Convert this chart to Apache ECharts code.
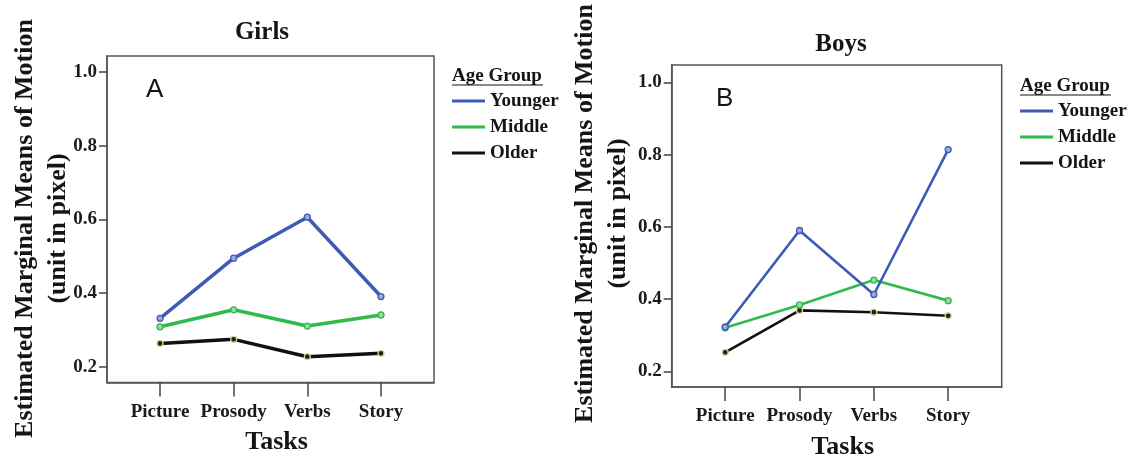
<!DOCTYPE html>
<html>
<head>
<meta charset="utf-8">
<script src="https://cdn.jsdelivr.net/npm/echarts@6/dist/echarts.min.js"></script>
<style>
html,body{margin:0;padding:0;background:#fff;}
#chart{width:1133px;height:465px;}
</style>
</head>
<body>
<div id="chart"></div>
<script>
const categories = ['Picture', 'Prosody', 'Verbs', 'Story'];
const seriesNames = ['Younger', 'Middle', 'Older'];
const girlsYounger = [0.332, 0.495, 0.606, 0.391];
const girlsMiddle = [0.309, 0.355, 0.311, 0.341];
const girlsOlder = [0.264, 0.275, 0.228, 0.237];
const boysYounger = [0.323, 0.590, 0.413, 0.814];
const boysMiddle = [0.321, 0.384, 0.453, 0.396];
const boysOlder = [0.253, 0.369, 0.364, 0.354];
const yTicks = [0.2, 0.4, 0.6, 0.8, 1.0];
const xTicks = [0, 1, 2, 3];

const SERIF = 'Liberation Serif';
const colors = ['#3d5ab6', '#2fba4c', '#111111'];
const markerFill = ['#9aa9dc', '#93dba2', '#222222'];
const markerBorder = ['#3d5ab6', '#2fba4c', '#d9d396'];

const chart = echarts.init(document.getElementById('chart'));

function xAxisCfg(gridIndex) {
  return {
    type: 'value', gridIndex: gridIndex, min: -0.72, max: 3.72,
    name: 'Tasks', nameLocation: 'middle', nameGap: 47,
    nameTextStyle: {fontFamily: SERIF, fontWeight: 'bold', fontSize: 26, color: '#151515', padding: [0, 0, 0, 12]},
    splitLine: {show: false},
    axisLine: {show: true, onZero: false, lineStyle: {color: '#555', width: 1.5}},
    axisTick: {show: true, length: 14, customValues: xTicks, lineStyle: {color: '#444', width: 1.5}},
    axisLabel: {customValues: xTicks, margin: 20, fontFamily: SERIF, fontWeight: 'bold', fontSize: 19, color: '#1a1a1a',
      formatter: v => categories[Math.round(v)]}
  };
}
function yAxisCfg(gridIndex, min, max) {
  return {
    type: 'value', gridIndex: gridIndex, min: min, max: max,
    splitLine: {show: false},
    axisLine: {show: true, onZero: false, lineStyle: {color: '#555', width: 1.5}},
    axisTick: {show: true, length: 8, customValues: yTicks, lineStyle: {color: '#444', width: 1.5}},
    axisLabel: {customValues: yTicks, margin: 10, fontFamily: SERIF, fontWeight: 'bold', fontSize: 19, color: '#1a1a1a',
      formatter: v => v.toFixed(1)}
  };
}
function mkSeries(name, values, idx, axisIdx, width) {
  return {
    name: name, type: 'line', xAxisIndex: axisIdx, yAxisIndex: axisIdx,
    data: values.map((v, i) => [xTicks[i], v]),
    symbol: 'circle', symbolSize: 6,
    lineStyle: {color: colors[idx], width: width},
    itemStyle: {color: markerFill[idx], borderColor: markerBorder[idx], borderWidth: 1.3},
    emphasis: {disabled: true},
    z: 3 - idx
  };
}
function legendCfg(left, top) {
  return {
    orient: 'vertical', left: left, top: top, padding: 0,
    data: seriesNames.map((n, i) => ({name: n, itemStyle: {color: colors[i], borderWidth: 0}})),
    icon: 'rect', itemWidth: 33, itemHeight: 3, itemGap: 6,
    textStyle: {fontFamily: SERIF, fontWeight: 'bold', fontSize: 19, color: '#151515', lineHeight: 20, padding: [0, 0, 0, 0]}
  };
}
function legendHeader(left, top, underlineY) {
  return [
    {type: 'text', left: left, top: top, style: {text: 'Age Group', font: 'bold 19px "Liberation Serif"', fill: '#151515'}},
    {type: 'line', shape: {x1: left, y1: underlineY, x2: left + 91, y2: underlineY}, style: {stroke: '#151515', lineWidth: 1.2}}
  ];
}
function yName(cx, cy) {
  return {type: 'text', x: cx, y: cy, rotation: Math.PI / 2,
    style: {text: 'Estimated Marginal Means of Motion\n(unit in pixel)', font: 'bold 26px "Liberation Serif"',
      fill: '#151515', align: 'center', verticalAlign: 'middle', lineHeight: 33}};
}

const option = {
  backgroundColor: '#fff',
  animation: false,
  title: [
    {text: 'Girls', left: 262, top: 20, textAlign: 'center', padding: 0,
      textStyle: {fontFamily: SERIF, fontWeight: 'bold', fontSize: 25, color: '#151515'}},
    {text: 'Boys', left: 841, top: 32, textAlign: 'center', padding: 0,
      textStyle: {fontFamily: SERIF, fontWeight: 'bold', fontSize: 25, color: '#151515'}}
  ],
  grid: [
    {left: 107, top: 56, width: 327, height: 326.5, show: true, borderColor: '#555', borderWidth: 1.5, backgroundColor: '#fff'},
    {left: 671.7, top: 65, width: 330, height: 326.7, show: true, borderColor: '#555', borderWidth: 1.5, backgroundColor: '#fff'}
  ],
  xAxis: [xAxisCfg(0), xAxisCfg(1)],
  yAxis: [yAxisCfg(0, 0.158, 1.043), yAxisCfg(1, 0.157, 1.048)],
  legend: [legendCfg(452, 91), legendCfg(1020, 101)],
  series: [
    mkSeries('Younger', girlsYounger, 0, 0, 3.5),
    mkSeries('Middle', girlsMiddle, 1, 0, 3.5),
    mkSeries('Older', girlsOlder, 2, 0, 3.5),
    mkSeries('Younger', boysYounger, 0, 1, 2.6),
    mkSeries('Middle', boysMiddle, 1, 1, 2.6),
    mkSeries('Older', boysOlder, 2, 1, 2.6)
  ],
  graphic: [
    {type: 'text', left: 146, top: 77, style: {text: 'A', font: '26px "Liberation Sans"', fill: '#151515'}},
    {type: 'text', left: 716, top: 86, style: {text: 'B', font: '26px "Liberation Sans"', fill: '#151515'}},
    yName(41.5, 228.5),
    yName(601.5, 213.5),
    ...legendHeader(452, 67, 85),
    ...legendHeader(1020, 77, 95)
  ]
};
chart.setOption(option);
</script>
</body>
</html>
